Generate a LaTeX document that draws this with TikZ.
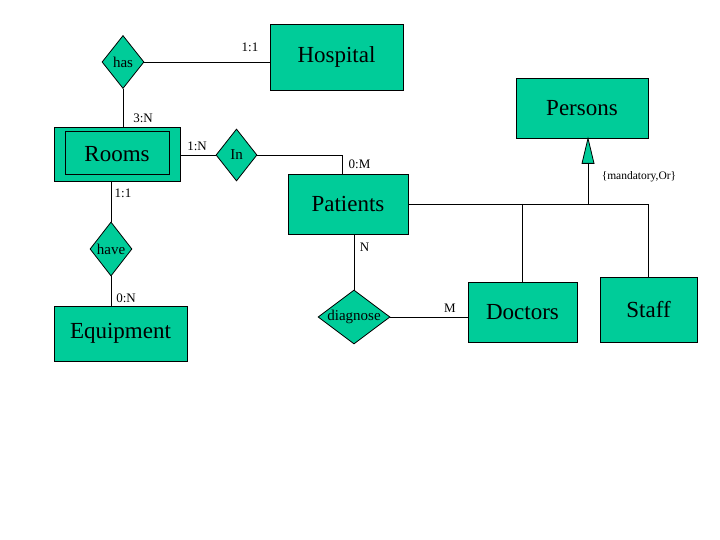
\documentclass[tikz,border=0pt]{standalone}
\usepackage{fontspec}
\setmainfont{Liberation Serif}
\usepackage{xcolor}
\usetikzlibrary{positioning,shapes.geometric}
\definecolor{erteal}{RGB}{0,204,153}

\begin{document}
\begin{tikzpicture}[x=1pt,y=-1pt,line width=0.8pt]
\tikzstyle{every node}+=[inner sep=0pt]
\tikzstyle{entity}=[draw=black,fill=erteal,rectangle,font=\fontsize{23}{26}\selectfont]
\tikzstyle{relation}=[draw=black,fill=erteal,diamond,font=\fontsize{15}{17}\selectfont]
\tikzstyle{card}=[font=\fontsize{13}{15}\selectfont]
\useasboundingbox (0,0) rectangle (720,540);
% entities
\node [entity,minimum width=133,minimum height=66] (hospital) at (336.5,57) {Hospital};
\node [entity,minimum width=126,minimum height=54] (rooms) at (117,154) {Rooms};
\draw ([shift={(12,5)}]rooms.north west) rectangle ([shift={(-11,-7)}]rooms.south east);
\node [entity,minimum width=133,minimum height=55] (equipment) at (120.5,333.5) {Equipment};
\node [entity,minimum width=120,minimum height=60] (patients) at (348,204) {Patients};
\node [entity,minimum width=132,minimum height=60] (persons) at (582,108) {Persons};
\node [entity,minimum width=109,minimum height=60] (doctors) at (522.5,312) {Doctors};
\node [entity,minimum width=97,minimum height=65] (staff) at (648.5,309.5) {Staff};
% relationships
\node [relation,aspect=0.8,minimum width=42,minimum height=53] (has) at (123,62) {has};
\node [relation,aspect=0.8,minimum width=41,minimum height=52] (in) at (236.5,155) {In};
\node [relation,aspect=0.78,minimum width=42,minimum height=54] (have) at (111,249) {have};
\node [relation,aspect=1.333,minimum width=72,minimum height=54] (diagnose) at (354,317) {diagnose};
% connectors
\draw (has.east) -- (has.east -| hospital.west);
\draw (has.south) -- (has.south |- rooms.north);
\draw (rooms.east |- in.west) -- (in.west);
\draw (in.east) -| ([xshift=-6]patients.north);
\draw (have.north |- rooms.south) -- (have.north);
\draw (have.south) -- (have.south |- equipment.north);
\draw (diagnose.north |- patients.south) -- (diagnose.north);
\draw (diagnose.east) -- (diagnose.east -| doctors.west);
% generalisation
\coordinate (isatip) at ([xshift=6]persons.south);
\coordinate (isa) at (588,204);
\draw (patients.east) -- (isa -| staff.north) -- (staff.north);
\draw (doctors.north |- isa) -- (doctors.north);
\draw (isatip) ++(0,25) -- (isa);
\filldraw [fill=erteal] (isatip) -- ++(6,25) -- ++(-12,0) -- cycle;
% cardinalities
\node [card] (c1) at (250,47) {1:1};
\node [card] (c2) at (143,118.5) {3:N};
\node [card] (c3) at (197,146.5) {1:N};
\node [card] (c4) at (359.5,164) {0:M};
\node [card] (c5) at (123,193) {1:1};
\node [card] (c6) at (126,298) {0:N};
\node [card] (c7) at (364.5,247.5) {N};
\node [card] (c8) at (450,308) {M};
\node [font=\fontsize{11.5}{13}\selectfont] (cons) at (639,177) {\{mandatory,Or\}};
\end{tikzpicture}
\end{document}
